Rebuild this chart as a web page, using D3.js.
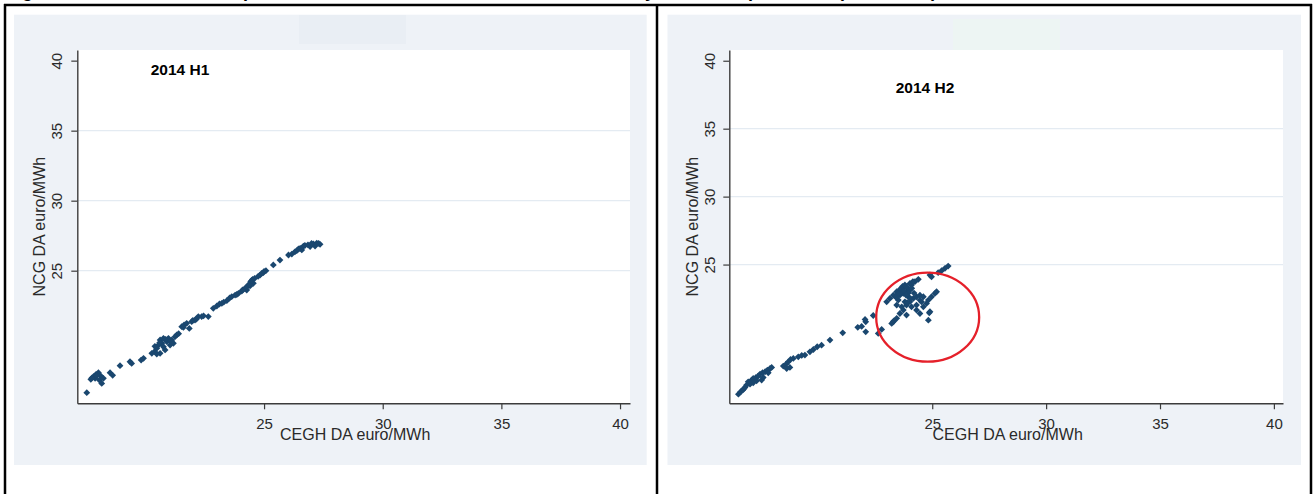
<!DOCTYPE html>
<html><head><meta charset="utf-8">
<script src="https://cdn.jsdelivr.net/npm/d3@7"></script>
<style>
body{margin:0;background:#fff}
svg{display:block}
text{font-family:"Liberation Sans",Arial,Helvetica,sans-serif}
</style>
</head><body>
<svg id="chart" width="1316" height="494"></svg>
<script>
// ---------------- data ----------------
const xTicks = [25, 30, 35, 40];
const yTicks = [25, 30, 35, 40];
const xTitle = "CEGH DA euro/MWh";
const yTitle = "NCG DA euro/MWh";
const panelLabels = ["2014 H1", "2014 H2"];

const h1CEGH = [17.53,17.70,17.81,17.92,18.02,18.12,18.06,18.16,18.23,17.88,18.51,18.62,18.93,19.35,19.42,19.82,19.92,
  20.27,20.38,20.48,20.55,20.62,20.69,20.76,20.83,20.90,20.97,21.04,21.18,21.25,21.32,20.62,20.48,20.76,21.11,
  21.53,21.63,21.74,21.85,21.95,22.09,22.23,22.37,22.65,22.86,23.01,23.12,23.22,23.43,23.64,23.78,23.92,24.06,
  24.20,24.34,24.44,24.52,24.41,24.27,24.55,24.83,24.97,25.08,24.90,25.39,25.67,26.03,26.17,26.38,26.52,26.66,
  26.59,26.94,27.08,27.22,27.36,27.15,
  20.60,20.40,21.10,20.85,21.40,21.60,22.00,22.15,22.45,23.30,23.55,23.85,24.10,24.25,24.38,24.48,24.60,24.75,
  25.00,26.30,26.45,26.72,26.85,27.00,27.30,17.75,17.95];
const h1NCG = [16.29,17.24,17.43,17.60,17.72,17.48,17.19,16.95,17.31,17.31,17.72,17.53,18.22,18.50,18.38,18.62,18.74,
  19.10,19.22,19.46,19.69,20.05,19.81,19.57,19.34,19.93,20.17,19.69,19.81,20.29,20.41,19.10,19.05,20.17,20.05,
  21.00,21.12,21.24,20.88,21.36,21.48,21.72,21.72,21.72,22.31,22.48,22.62,22.67,22.86,23.15,23.26,23.38,23.55,
  23.74,23.98,24.22,24.38,23.91,23.62,24.10,24.69,24.86,25.00,24.81,25.41,25.76,26.12,26.19,26.43,26.60,26.76,
  26.48,26.72,26.91,26.96,26.88,26.76,
  19.85,19.60,19.90,20.10,20.50,20.95,21.45,21.55,21.78,22.75,23.05,23.30,23.62,23.80,24.02,24.30,24.45,24.60,
  24.95,26.35,26.55,26.80,26.85,26.95,26.95,17.35,17.50];

const h2CEGH = [16.49,16.59,16.68,16.78,16.85,16.97,17.07,17.14,17.26,17.36,17.44,17.55,17.66,17.76,17.88,17.95,
  17.51,17.29,17.00,17.14,17.58,17.80,16.73,16.92,18.46,18.58,18.68,18.78,18.90,18.61,18.75,19.12,19.27,19.41,
  19.63,19.78,19.95,20.14,20.51,21.07,21.73,21.90,22.08,22.05,22.08,22.41,22.63,22.78,
  25.70,25.56,25.41,25.26,24.90,24.97,24.39,24.24,24.09,24.02,23.87,23.73,23.58,23.44,23.29,23.14,23.00,23.58,
  23.73,23.87,23.51,23.44,23.66,23.80,23.95,24.02,24.17,24.31,24.46,24.61,24.46,24.31,24.53,24.75,24.83,24.97,
  25.12,25.19,24.90,24.83,23.87,23.58,23.44,23.29,23.22,23.87,24.09,23.73,23.32,24.87,24.31,24.46,24.61,
  23.60,23.70,23.80,23.90,24.00,23.95,23.65,23.75,23.50,23.85,24.10,24.05,23.90,24.20,24.15,23.40];
const h2NCG = [15.46,15.64,15.76,15.96,16.13,16.30,16.50,16.62,16.69,16.79,16.94,17.04,17.11,17.23,17.35,17.43,
  16.50,16.45,16.20,16.30,16.69,17.04,15.86,16.37,17.53,17.67,17.84,18.02,18.09,17.35,17.43,18.21,18.31,18.34,
  18.58,18.75,18.95,19.07,19.44,19.98,20.38,20.45,20.79,20.96,20.05,21.25,19.93,20.23,
  24.89,24.72,24.55,24.40,24.23,24.10,23.91,23.74,23.49,23.61,23.37,23.25,23.12,23.00,22.75,22.51,22.26,22.75,
  22.88,23.00,22.39,22.02,21.89,22.26,22.63,22.26,22.51,22.63,22.75,22.63,22.39,22.02,22.26,22.14,22.39,22.63,
  22.88,23.00,21.53,20.91,21.28,21.40,21.04,20.79,20.67,22.02,21.89,21.65,20.86,21.45,21.65,21.40,21.89,
  23.20,23.40,23.50,23.30,23.10,22.90,22.95,23.05,22.85,22.75,23.25,22.50,22.20,22.90,23.75,22.60];

// annotation ellipse (data units) on the H2 panel
const circleCenter = [24.80, 21.13];
const circleRadius = [2.26, 3.28];

const titleParts = ["Figure 8: NCG and CEGH ", "price correlation between the hubs on the ", "day-ahead hub ", "prices in ", "(euro/MWh)"];

// ---------------- layout ----------------
const panels = [
  {bg:[14,14.7,632.7,450.3], plot:{l:77.3,r:630,t:50,b:403.3}, xd:[17.13,40.42], yd:[15.53,40.76],
   lab:[150.7,75], ytOff:15.6, yTitleOff:32.3, xs:h1CEGH, ys:h1NCG, faint:[299,15,107,29,"#e9eef4"]},
  {bg:[667.5,14.7,633.5,450.3], plot:{l:729.3,r:1283,t:50,b:403.3}, xd:[16.09,40.40], yd:[14.79,40.79],
   lab:[895.7,93.3], ytOff:14.5, yTitleOff:31.3, xs:h2CEGH, ys:h2NCG, faint:[953,19,107,35,"#edf5f3"], ellipse:true}
];

const svg = d3.select("#chart");
const navy = "#1a476f";
const axisCol = "#3c3c3c";

// caption, cut off by the top edge (only descenders show)
const cap = svg.append("text").attr("font-weight","bold").attr("font-size",18).attr("fill","#000");
const capX = [6,243,624,748,838];
titleParts.forEach((t,i)=>cap.append("tspan").attr("x",capX[i]).attr("y",-3.5).text(t));

panels.forEach((p,i)=>{
  const g = svg.append("g");
  g.append("rect").attr("x",p.bg[0]).attr("y",p.bg[1]).attr("width",p.bg[2]).attr("height",p.bg[3]).attr("fill","#eef2f7");
  g.append("rect").attr("x",p.faint[0]).attr("y",p.faint[1]).attr("width",p.faint[2]).attr("height",p.faint[3]).attr("fill",p.faint[4]);
  const P = p.plot;
  g.append("rect").attr("x",P.l).attr("y",P.t).attr("width",P.r-P.l).attr("height",P.b-P.t).attr("fill","#fff");

  const x = d3.scaleLinear().domain(p.xd).range([P.l,P.r]);
  const y = d3.scaleLinear().domain(p.yd).range([P.b,P.t]);

  // gridlines
  g.append("g").selectAll("line").data(yTicks.filter(t=>t<40)).join("line")
    .attr("x1",P.l).attr("x2",P.r).attr("y1",d=>y(d)).attr("y2",d=>y(d))
    .attr("stroke","#e4ebf2").attr("stroke-width",1.2);

  // points
  const diamond = "M0,-3.4L3.4,0L0,3.4L-3.4,0Z";
  g.append("g").selectAll("path").data(p.xs.map((v,k)=>[v,p.ys[k]])).join("path")
    .attr("d",diamond).attr("transform",d=>`translate(${x(d[0])},${y(d[1])})`)
    .attr("fill",navy);

  if(p.ellipse){
    g.append("ellipse").attr("cx",x(circleCenter[0])).attr("cy",y(circleCenter[1]))
      .attr("rx",x(circleCenter[0]+circleRadius[0])-x(circleCenter[0]))
      .attr("ry",y(circleCenter[1])-y(circleCenter[1]+circleRadius[1]))
      .attr("fill","none").attr("stroke","#e5202a").attr("stroke-width",2.3);
  }

  // axes
  const xa = g.append("g").attr("transform",`translate(0,${P.b})`)
    .call(d3.axisBottom(x).tickValues(xTicks).tickSize(6).tickSizeOuter(0).tickPadding(9.4).tickFormat(d3.format("d")));
  const ya = g.append("g").attr("transform",`translate(${P.l},0)`)
    .call(d3.axisLeft(y).tickValues(yTicks).tickSize(6).tickSizeOuter(0).tickFormat(d3.format("d")));
  [xa,ya].forEach(a=>{
    a.select(".domain").attr("stroke",axisCol).attr("stroke-width",1.4);
    a.selectAll(".tick line").attr("stroke",axisCol).attr("stroke-width",1.2);
    a.selectAll("text").attr("font-size",15).attr("fill","#2a2a2a").attr("font-family",null);
  });
  ya.selectAll(".tick text").attr("x",null).attr("dy",null)
    .attr("text-anchor","middle").attr("transform",`translate(${-p.ytOff},0) rotate(-90)`);

  // axis titles
  g.append("text").attr("x",(P.l+P.r)/2+1.5).attr("y",P.b+37).attr("text-anchor","middle")
    .attr("font-size",16).attr("fill","#2a2a2a").text(xTitle);
  g.append("text").attr("transform",`translate(${P.l-p.yTitleOff},${(P.t+P.b)/2}) rotate(-90)`)
    .attr("text-anchor","middle").attr("font-size",16).attr("fill","#2a2a2a").text(yTitle);

  // panel label
  g.append("text").attr("x",p.lab[0]).attr("y",p.lab[1]).attr("font-size",15.5).attr("font-weight","bold")
    .attr("fill","#000").text(panelLabels[i]);
});

// table frame
const fr = svg.append("g").attr("stroke","#000").attr("stroke-width",2.5);
fr.append("line").attr("x1",4).attr("x2",1312).attr("y1",5).attr("y2",5);
[5,657,1311].forEach(xx=>fr.append("line").attr("x1",xx).attr("x2",xx).attr("y1",4).attr("y2",494));
</script>
</body></html>
